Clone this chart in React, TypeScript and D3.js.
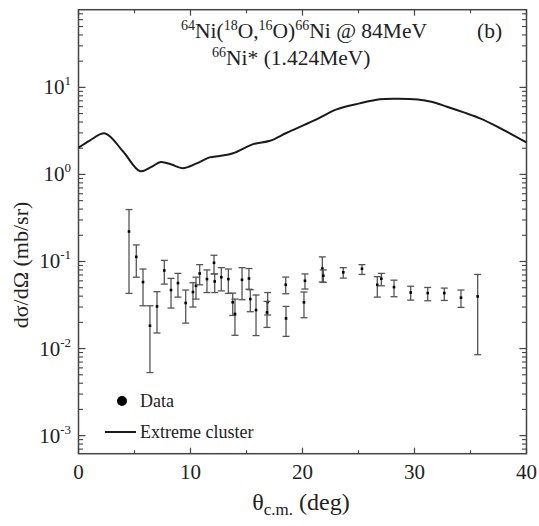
import React from "react";
import * as d3 from "d3";

// Experimental data (theta c.m. in deg, dσ/dΩ in mb/sr)
const dataAngle = [4.51, 5.16, 5.76, 6.38, 7.01, 7.66, 8.26, 8.88, 9.57, 10.22, 10.49, 10.82, 11.47, 12.10, 12.16, 12.75, 13.38, 13.77, 13.97, 14.6, 15.22, 15.34, 15.85, 16.89, 16.83, 18.5, 18.53, 20.22, 20.13, 21.77, 21.86, 23.64, 25.31, 26.68, 27.04, 28.17, 29.66, 31.18, 32.66, 34.15, 35.64];
const dataValue = [0.221, 0.113, 0.058, 0.0183, 0.0305, 0.0788, 0.047, 0.0565, 0.0334, 0.0446, 0.0526, 0.0728, 0.0628, 0.0966, 0.059, 0.066, 0.0628, 0.034, 0.025, 0.0616, 0.0638, 0.037, 0.0277, 0.0342, 0.026, 0.054, 0.0222, 0.060, 0.034, 0.083, 0.0686, 0.075, 0.0825, 0.054, 0.0634, 0.0508, 0.044, 0.0434, 0.0434, 0.0384, 0.0397];
const dataLow = [0.043, 0.066, 0.031, 0.0053, 0.0151, 0.055, 0.0292, 0.039, 0.0196, 0.030, 0.037, 0.054, 0.044, 0.072, 0.044, 0.046, 0.043, 0.024, 0.0142, 0.0364, 0.048, 0.0265, 0.0141, 0.0243, 0.0175, 0.0426, 0.0138, 0.0483, 0.0226, 0.058, 0.0575, 0.0645, 0.071, 0.039, 0.0526, 0.0394, 0.036, 0.0354, 0.0357, 0.0297, 0.0085];
const dataHigh = [0.395, 0.155, 0.082, 0.031, 0.045, 0.103, 0.064, 0.073, 0.047, 0.057, 0.066, 0.092, 0.080, 0.118, 0.072, 0.085, 0.082, 0.0434, 0.037, 0.085, 0.083, 0.0474, 0.0412, 0.044, 0.0348, 0.0662, 0.0305, 0.072, 0.0446, 0.113, 0.080, 0.085, 0.092, 0.067, 0.073, 0.061, 0.052, 0.0503, 0.0495, 0.047, 0.071];

// Extreme cluster calculation
const curveAngle = [0, 1, 2.37, 4.0, 5.5, 6.5, 7.35, 8.3, 9.3, 10.5, 11.7, 12.6, 13.8, 15.6, 17.1, 18.6, 21.0, 23.05, 25.1, 26.9, 28.5, 30.3, 31.5, 32.9, 34.4, 35.85, 37.3, 40];
const curveValue = [2.03, 2.45, 2.96, 1.82, 1.09, 1.22, 1.39, 1.30, 1.18, 1.33, 1.57, 1.63, 1.75, 2.23, 2.44, 3.01, 4.14, 5.59, 6.55, 7.3, 7.4, 7.25, 6.85, 6.0, 5.16, 4.41, 3.59, 2.33];

const xMajorTicks = [0, 10, 20, 30, 40];
const xMinorTicks = [5, 15, 25, 35];
const yDecadeExps = [-3, -2, -1, 0, 1];
const yTickExpLabels = ["-3", "-2", "-1", "0", "1"];

const W = 539;
const H = 526;
const L = 78.5, R = 526.5, T = 9.7, B = 453.7;
const FONT = "'Liberation Serif', 'Times New Roman', serif";
const AXIS = "#444";

export default function App() {
  const x = d3.scaleLinear().domain([0, 40]).range([L, R]);
  const y = d3.scaleLog().domain([6.2e-4, 78]).range([B, T]);

  const minorY: number[] = [];
  for (let e = -4; e <= 1; e++) {
    for (let m = 2; m <= 9; m++) {
      const v = m * Math.pow(10, e);
      if (v > 6.2e-4 && v < 78) minorY.push(v);
    }
  }

  const line = d3
    .line<number>()
    .x((_, i) => x(curveAngle[i]))
    .y((d) => y(d))
    .curve(d3.curveCatmullRom.alpha(0.5));

  const capHalf = 3.5;

  return (
    <svg width={W} height={H} style={{ position: "absolute", left: 0, top: 0, background: "#fff" }} fontFamily={FONT}>
      <rect x={0} y={0} width={W} height={H} fill="#fff" />
      {/* frame */}
      <rect x={L} y={T} width={R - L} height={B - T} fill="none" stroke={AXIS} strokeWidth={1.5} />
      {/* x ticks */}
      {xMajorTicks.map((t) => (
        <g key={"xm" + t}>
          <line x1={x(t)} x2={x(t)} y1={B} y2={B - 6} stroke={AXIS} strokeWidth={1.2} />
          <line x1={x(t)} x2={x(t)} y1={T} y2={T + 6} stroke={AXIS} strokeWidth={1.2} />
          <text x={x(t)} y={479} fontSize={21} textAnchor="middle" fill="#222">{t}</text>
        </g>
      ))}
      {xMinorTicks.map((t) => (
        <g key={"xn" + t}>
          <line x1={x(t)} x2={x(t)} y1={B} y2={B - 3.5} stroke={AXIS} strokeWidth={1.2} />
          <line x1={x(t)} x2={x(t)} y1={T} y2={T + 3.5} stroke={AXIS} strokeWidth={1.2} />
        </g>
      ))}
      {/* y ticks */}
      {yDecadeExps.map((e, i) => {
        const yy = y(Math.pow(10, e));
        return (
          <g key={"yd" + e}>
            <line x1={L} x2={L + 7} y1={yy} y2={yy} stroke={AXIS} strokeWidth={1.2} />
            <line x1={R} x2={R - 7} y1={yy} y2={yy} stroke={AXIS} strokeWidth={1.2} />
            <text x={71} y={yy + 7} fontSize={21} textAnchor="end" fill="#222">
              10<tspan dy={-9} fontSize={13}>{yTickExpLabels[i]}</tspan>
            </text>
          </g>
        );
      })}
      {minorY.map((v) => (
        <g key={"ym" + v}>
          <line x1={L} x2={L + 4.5} y1={y(v)} y2={y(v)} stroke={AXIS} strokeWidth={1.1} />
          <line x1={R} x2={R - 4.5} y1={y(v)} y2={y(v)} stroke={AXIS} strokeWidth={1.1} />
        </g>
      ))}
      {/* curve */}
      <path d={line(curveValue) || ""} fill="none" stroke="#1a1a1a" strokeWidth={2} />
      {/* data */}
      {dataAngle.map((a, i) => {
        const cx = x(a);
        return (
          <g key={"d" + i}>
            <line x1={cx} x2={cx} y1={y(dataLow[i])} y2={y(dataHigh[i])} stroke="#555" strokeWidth={1.3} />
            <line x1={cx - capHalf} x2={cx + capHalf} y1={y(dataLow[i])} y2={y(dataLow[i])} stroke="#555" strokeWidth={1.3} />
            <line x1={cx - capHalf} x2={cx + capHalf} y1={y(dataHigh[i])} y2={y(dataHigh[i])} stroke="#555" strokeWidth={1.3} />
            <rect x={cx - 1.3} y={y(dataValue[i]) - 1.3} width={2.6} height={2.6} fill="#000" />
          </g>
        );
      })}
      {/* title */}
      <text x={181} y={38} fontSize={21.5} fill="#222">
        <tspan fontSize={14} dy={-8}>64</tspan>
        <tspan dy={8}>Ni(</tspan>
        <tspan fontSize={14} dy={-8}>18</tspan>
        <tspan dy={8}>O,</tspan>
        <tspan fontSize={14} dy={-8}>16</tspan>
        <tspan dy={8}>O)</tspan>
        <tspan fontSize={14} dy={-8}>66</tspan>
        <tspan dy={8}>Ni @ 84MeV</tspan>
      </text>
      <text x={477} y={38} fontSize={21.5} fill="#222">(b)</text>
      <text x={212} y={65} fontSize={21.5} fill="#222">
        <tspan fontSize={14} dy={-8}>66</tspan>
        <tspan dy={8}>Ni* (1.424MeV)</tspan>
      </text>
      {/* legend */}
      <circle cx={122} cy={401} r={5} fill="#000" />
      <text x={140} y={407} fontSize={18} fill="#222">Data</text>
      <line x1={105} x2={136} y1={432} y2={432} stroke="#1a1a1a" strokeWidth={2} />
      <text x={140} y={438} fontSize={18} fill="#222">Extreme cluster</text>
      {/* axis labels */}
      <text x={301} y={510} fontSize={24} textAnchor="middle" fill="#222">
        θ<tspan fontSize={17} dy={5}>c.m.</tspan>
        <tspan dy={-5}> (deg)</tspan>
      </text>
      <text transform={`translate(28, ${265}) rotate(-90)`} fontSize={22} textAnchor="middle" fill="#222">
        dσ/dΩ (mb/sr)
      </text>
    </svg>
  );
}
